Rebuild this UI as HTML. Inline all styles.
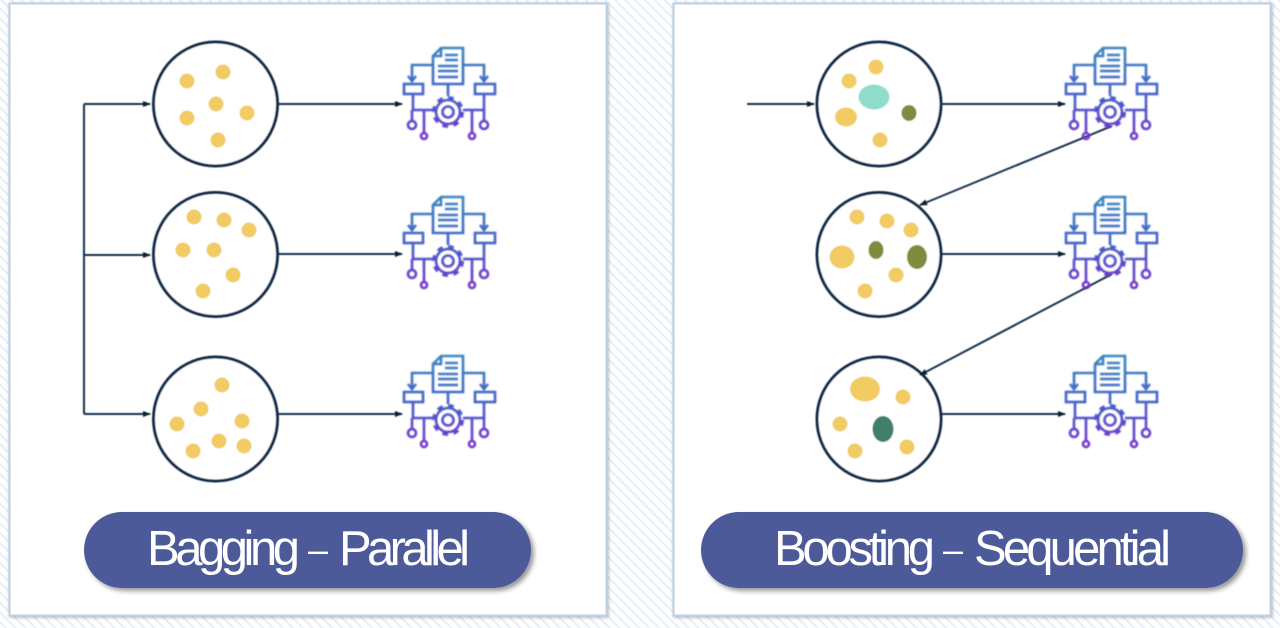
<!DOCTYPE html>
<html><head><meta charset="utf-8"><style>html,body{margin:0;padding:0;background:#fff}svg{display:block}</style></head><body>
<svg width="1280" height="628" viewBox="0 0 1280 628" xmlns="http://www.w3.org/2000/svg">
<defs>
<pattern id="h" width="7" height="7" patternUnits="userSpaceOnUse" patternTransform="rotate(-45)"><rect width="7" height="7" fill="#fff"/><rect width="2" height="7" fill="#e6eff9"/></pattern>
<linearGradient id="g" gradientUnits="userSpaceOnUse" x1="0" y1="48" x2="0" y2="140"><stop offset="0" stop-color="#3a84bd"/><stop offset=".5" stop-color="#4360c6"/><stop offset="1" stop-color="#7430cc"/></linearGradient>
<filter id="b" x="-10%" y="-10%" width="120%" height="120%"><feGaussianBlur stdDeviation=".7"/></filter>
<filter id="c" x="-5%" y="-5%" width="110%" height="110%"><feGaussianBlur stdDeviation=".45"/></filter>
<filter id="s" x="-10%" y="-20%" width="120%" height="150%"><feDropShadow dx="3" dy="3" stdDeviation="2.5" flood-color="#000" flood-opacity=".4"/></filter>
<filter id="p" x="-2%" y="-2%" width="104%" height="104%"><feDropShadow dx="1" dy="1" stdDeviation="1.5" flood-color="#000" flood-opacity=".3"/></filter>
<marker id="a" markerWidth="8" markerHeight="6" refX="7" refY="3" orient="auto" markerUnits="userSpaceOnUse"><path d="M0 0L8 3L0 6z" fill="#10202f"/></marker>
<g id="i" fill="none" stroke="url(#g)" stroke-width="2.600" filter="url(#b)">
<path d="M441 48H463V84H433V56z"/><path d="M441 48V56H433"/>
<path d="M445 55H458M445 60H458M438 66H458M438 71H458M438 77H458"/>
<path d="M433 65H412V80M408 76L412 81L416 76"/><path d="M463 65H484V80M480 76L484 81L488 76"/>
<rect x="404" y="84" width="19" height="10"/><rect x="475" y="84" width="20" height="10"/>
<path d="M448 84V96M413 94V110H433M484 94V110H463"/>
<path d="M412 110V121M424 110V132M472 110V132M484 110V121"/>
<circle cx="412" cy="125" r="4"/><circle cx="424" cy="136" r="3"/><circle cx="472" cy="136" r="3"/><circle cx="484" cy="125" r="4"/>
<circle cx="448" cy="112" r="5.500"/><circle cx="448" cy="112" r="12"/>
<circle cx="448" cy="112" r="14.500" stroke-width="3" stroke-dasharray="5.700 5.700"/>
</g>
</defs>
<rect width="1280" height="628" fill="url(#h)"/>
<rect x="9.500" y="3.500" width="597" height="612" fill="#fff" stroke="#bdd1e6" stroke-width="2" filter="url(#p)"/>
<rect x="673.500" y="3.500" width="597" height="612" fill="#fff" stroke="#bdd1e6" stroke-width="2" filter="url(#p)"/>

<g filter="url(#c)">
<g fill="#fff" stroke="#0f2a47" stroke-width="3">
<circle cx="215.500" cy="104" r="62"/><circle cx="215.500" cy="254.500" r="62"/><circle cx="215.500" cy="419" r="62"/>
<circle cx="879" cy="104" r="62"/><circle cx="879" cy="254.500" r="62"/><circle cx="879" cy="419" r="62"/>
</g>

<g fill="none" stroke="#16324f" stroke-width="2">
<path d="M84 104V414"/>
<path d="M84 104H150" marker-end="url(#a)"/><path d="M84 255H150" marker-end="url(#a)"/><path d="M84 414H150" marker-end="url(#a)"/>
<path d="M278 104H402" marker-end="url(#a)"/><path d="M278 254H402" marker-end="url(#a)"/><path d="M278 414H402" marker-end="url(#a)"/>
<path d="M747 104H814" marker-end="url(#a)"/>
<path d="M942 104H1065" marker-end="url(#a)"/><path d="M942 254H1065" marker-end="url(#a)"/><path d="M942 414H1065" marker-end="url(#a)"/>
<path d="M1112 126L920 205" marker-end="url(#a)"/><path d="M1112 274L920 375" marker-end="url(#a)"/>
</g>

<g fill="#f2cb63">
<circle cx="187" cy="81" r="7.500"/><circle cx="223" cy="72" r="7.500"/><circle cx="216" cy="104" r="7.500"/><circle cx="187" cy="118" r="7.500"/><circle cx="247" cy="113" r="7.500"/><circle cx="218" cy="140" r="7.500"/>
<circle cx="194" cy="217" r="7.500"/><circle cx="224" cy="220" r="7.500"/><circle cx="249" cy="230" r="7.500"/><circle cx="183" cy="250" r="7.500"/><circle cx="214" cy="250" r="7.500"/><circle cx="233" cy="275" r="7.500"/><circle cx="203" cy="291" r="7.500"/>
<circle cx="222" cy="385" r="7.500"/><circle cx="201" cy="409" r="7.500"/><circle cx="177" cy="424" r="7.500"/><circle cx="242" cy="421" r="7.500"/><circle cx="219" cy="441" r="7.500"/><circle cx="193" cy="451" r="7.500"/><circle cx="244" cy="446" r="7.500"/>
<circle cx="849" cy="81" r="7.500"/><circle cx="876" cy="67" r="7.500"/><ellipse cx="846" cy="117" rx="11" ry="9.500"/><circle cx="880" cy="140" r="7.500"/>
<circle cx="857" cy="217" r="7.500"/><circle cx="887" cy="221" r="7.500"/><circle cx="911" cy="230" r="7.500"/><ellipse cx="842" cy="257" rx="12.500" ry="11.500"/><circle cx="896" cy="275" r="7.500"/><circle cx="865" cy="291" r="7.500"/>
<ellipse cx="865" cy="389" rx="15" ry="12.500"/><circle cx="903" cy="397" r="7.500"/><circle cx="840" cy="424" r="7.500"/><circle cx="855" cy="451" r="7.500"/><circle cx="907" cy="447" r="7.500"/>
</g>
<ellipse cx="874" cy="97" rx="15.500" ry="12.500" fill="#90dccb"/>
<ellipse cx="909" cy="113" rx="7.500" ry="8" fill="#7f8c3c"/>
<ellipse cx="876" cy="250" rx="7.500" ry="9" fill="#7f8c3c"/>
<ellipse cx="917" cy="257" rx="10" ry="12" fill="#7f8c3c"/>
<ellipse cx="883" cy="429" rx="10.500" ry="13" fill="#3f7f68"/>
</g>

<use href="#i"/><use href="#i" y="149"/><use href="#i" y="308"/>
<use href="#i" x="662"/><use href="#i" x="662" y="149"/><use href="#i" x="662" y="308"/>

<rect x="84" y="512" width="447" height="76" rx="38" fill="#4e5a9a" filter="url(#s)"/>
<rect x="701" y="512" width="542" height="76" rx="38" fill="#4e5a9a" filter="url(#s)"/>
<g font-family="'Liberation Sans',sans-serif" font-size="49" fill="#fff">
<text x="147" y="565" textLength="153" lengthAdjust="spacing">Bagging</text>
<text x="308" y="562" font-size="36">–</text>
<text x="339" y="565" textLength="131" lengthAdjust="spacing">Parallel</text>
<text x="774" y="565" textLength="161" lengthAdjust="spacing">Boosting</text>
<text x="943" y="562" font-size="36">–</text>
<text x="974" y="565" textLength="197" lengthAdjust="spacing">Sequential</text>
</g>
</svg>
</body></html>
